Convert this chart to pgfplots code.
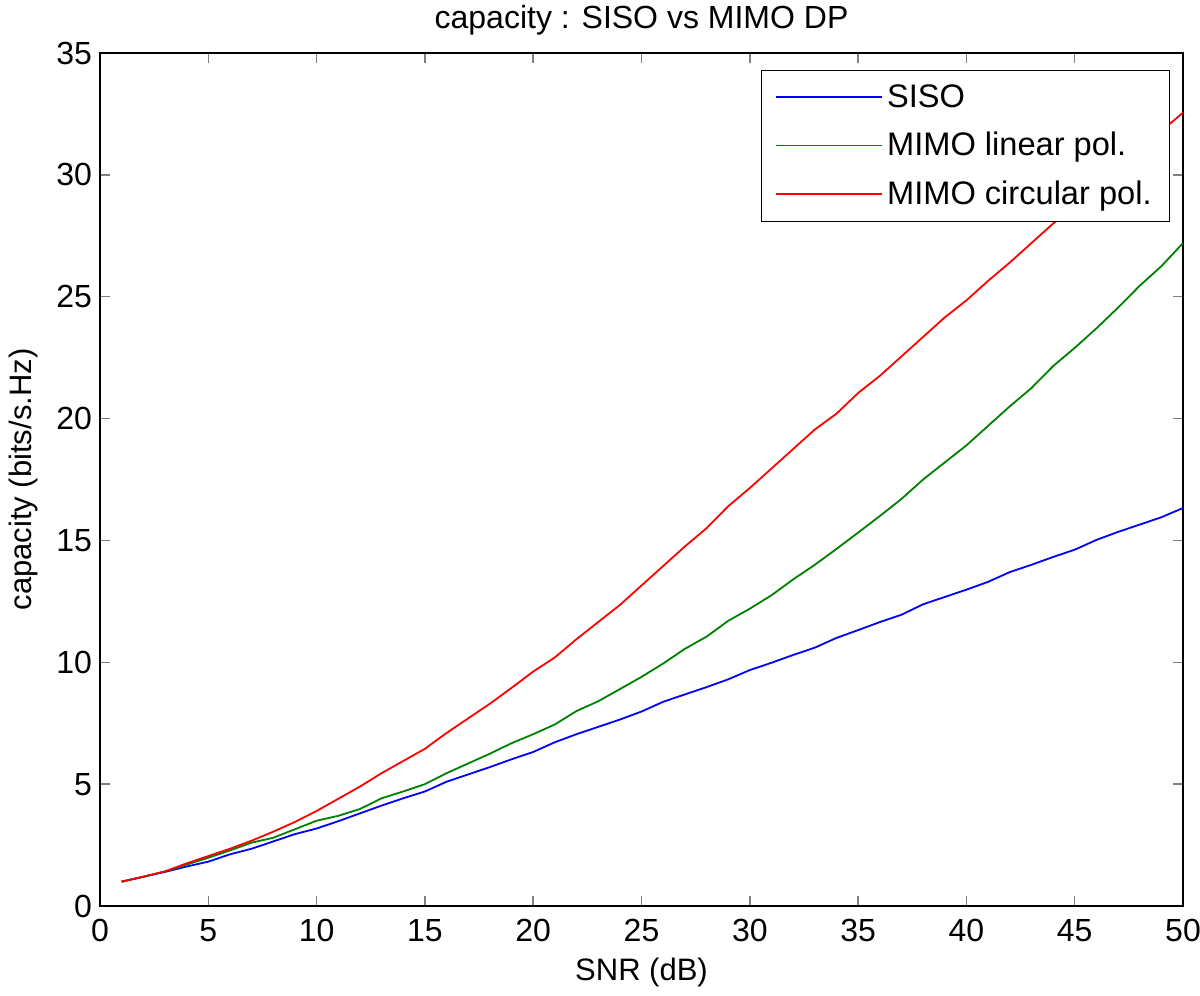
\documentclass[border=0pt]{standalone}
\usepackage{pgfplots}
\pgfplotsset{compat=1.18}
\usepackage{fontspec}
\setmainfont{Liberation Sans}
\usetikzlibrary{calc}
\definecolor{mblue}{rgb}{0,0,1}
\definecolor{mgreen}{rgb}{0,0.5,0}
\definecolor{mred}{rgb}{1,0,0}
\begin{document}
\begin{tikzpicture}
\begin{axis}[
  scale only axis,
  width=541.5pt, height=426.5pt,
  xmin=0, xmax=50, ymin=0, ymax=35,
  xtick={0,5,...,50}, ytick={0,5,...,35},
  tick align=inside,
  major tick length=5pt,
  axis line style={line width=0.75pt},
  every tick/.append style={line width=0.75pt},
  /pgf/number format/assume math mode=true,
  tick label style={font=\fontsize{16}{19}\selectfont},
  xticklabel style={yshift=-3pt},
  yticklabel style={xshift=-0.5pt},
  xlabel={SNR (dB)},
  ylabel={capacity (bits/s.Hz)},
  title={capacity : SISO vs MIMO DP},
  label style={font=\fontsize{15.5}{18}\selectfont},
  xlabel style={at={(axis description cs:0.5,-0.0868)}, anchor=base},
  ylabel style={at={(axis description cs:-0.0637,0.5)}, anchor=base},
  title style={at={(axis description cs:0.5,1.0293)}, anchor=base, yshift=-6pt, font=\fontsize{16}{19}\selectfont},
  legend cell align=left,
  legend style={at={(0.988,0.980)}, anchor=north east, draw=black,
    fill=white, font=\fontsize{16.3}{19}\selectfont, inner xsep=7pt, inner ysep=5pt,
    row sep=7pt},
  legend image code/.code={\draw[#1] (0pt,0pt) -- (53pt,0pt);},
  every axis plot/.append style={line width=0.9pt},
]
\addplot[draw=mblue] coordinates {
(1,1.00) (2,1.20) (3,1.40) (4,1.62) (5,1.82) (6,2.12) (7,2.35) (8,2.65) (9,2.95) (10,3.18)
(11,3.48) (12,3.80) (13,4.12) (14,4.42) (15,4.70) (16,5.10) (17,5.40) (18,5.70) (19,6.02) (20,6.32)
(21,6.72) (22,7.05) (23,7.35) (24,7.65) (25,7.98) (26,8.38) (27,8.68) (28,8.98) (29,9.30) (30,9.68)
(31,9.98) (32,10.30) (33,10.60) (34,11.00) (35,11.32) (36,11.65) (37,11.95) (38,12.38) (39,12.68) (40,12.98)
(41,13.30) (42,13.70) (43,14.00) (44,14.32) (45,14.62) (46,15.02) (47,15.35) (48,15.65) (49,15.95) (50,16.33)
};
\addlegendentry{SISO}
\addplot[draw=mgreen] coordinates {
(1,1.00) (2,1.20) (3,1.42) (4,1.70) (5,1.98) (6,2.28) (7,2.60) (8,2.80) (9,3.15) (10,3.50)
(11,3.70) (12,3.98) (13,4.42) (14,4.70) (15,5.00) (16,5.45) (17,5.85) (18,6.25) (19,6.68) (20,7.05)
(21,7.45) (22,8.00) (23,8.40) (24,8.90) (25,9.40) (26,9.95) (27,10.55) (28,11.05) (29,11.70) (30,12.20)
(31,12.75) (32,13.40) (33,14.00) (34,14.65) (35,15.32) (36,16.00) (37,16.70) (38,17.50) (39,18.20) (40,18.90)
(41,19.70) (42,20.50) (43,21.25) (44,22.15) (45,22.90) (46,23.70) (47,24.55) (48,25.45) (49,26.25) (50,27.20)
};
\addlegendentry{MIMO linear pol.}
\addplot[draw=mred] coordinates {
(1,1.00) (2,1.20) (3,1.42) (4,1.75) (5,2.05) (6,2.35) (7,2.68) (8,3.05) (9,3.45) (10,3.90)
(11,4.40) (12,4.90) (13,5.45) (14,5.95) (15,6.45) (16,7.10) (17,7.70) (18,8.30) (19,8.95) (20,9.62)
(21,10.20) (22,10.95) (23,11.65) (24,12.35) (25,13.15) (26,13.95) (27,14.75) (28,15.50) (29,16.40) (30,17.15)
(31,17.95) (32,18.75) (33,19.55) (34,20.20) (35,21.05) (36,21.75) (37,22.55) (38,23.35) (39,24.15) (40,24.85)
(41,25.65) (42,26.40) (43,27.20) (44,28.00) (45,28.75) (46,29.55) (47,30.30) (48,31.00) (49,31.80) (50,32.55)
};
\addlegendentry{MIMO circular pol.}
\end{axis}
\pgfresetboundingbox
\path ($(current axis.south west)+(-50pt,-44.5pt)$) rectangle ($(current axis.north east)+(8.5pt,26.5pt)$);
\end{tikzpicture}
\end{document}
